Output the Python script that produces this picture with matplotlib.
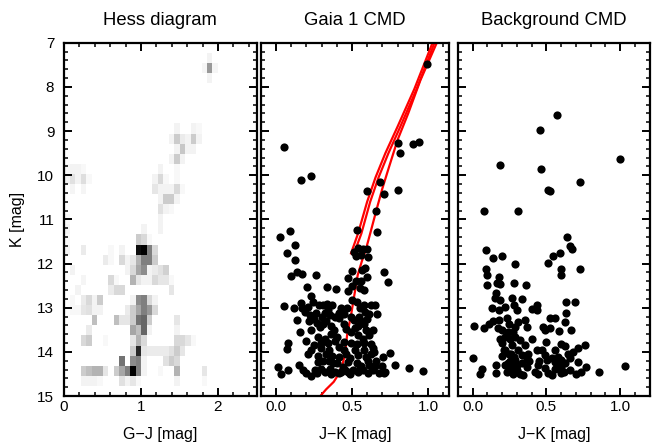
import numpy as np
import matplotlib
matplotlib.use("Agg")
import matplotlib.pyplot as plt
from matplotlib.ticker import MultipleLocator

plt.rcParams['font.family'] = ['Liberation Sans', 'DejaVu Sans']

# ---------------- Hess diagram (35 x 35 bins over G-J 0..2.5, K 7..15) ----------------
hess_nbins = 35
hess_gj_range = (0.0, 2.5)
hess_k_range = (7.0, 15.0)
# bin index along G-J, bin index along K (0 = K 7), relative density
hess_gj_bin = [26, 25, 26, 27, 26,
               20, 23, 24,
               19, 20, 21, 22, 23, 24,
               20, 21, 22, 23,
               19, 20, 21,
               0, 1, 2, 3, 17, 20,
               0, 1, 2, 3, 4, 16, 17, 18, 20,
               1, 3, 16, 17, 18, 19, 20, 21,
               17, 18, 19, 20,
               17, 18, 19,
               17, 0,
               0, 14, 17,
               13, 14, 15, 0,
               3, 8, 10, 13, 14, 15, 16, 0,
               7, 8, 10, 11, 12, 13, 14, 15, 16,
               1, 11, 12, 13, 14, 15, 16, 17, 18,
               3, 8, 9, 12, 13, 14, 15, 16, 17, 18, 19,
               2, 8, 9, 10, 19,
               1, 3, 4, 5, 6, 12, 13, 14, 15, 16,
               1, 2, 3, 4, 5, 6, 11, 12, 13, 14, 15, 16,
               5, 9, 10, 11, 12, 13, 14, 15, 20,
               4, 12, 13, 14, 15, 20,
               3, 4, 7, 12, 13, 14, 20, 21, 22, 23,
               12, 13, 14, 15, 16, 17, 18, 19, 20, 21,
               10, 12, 13, 14, 18, 19, 20,
               3, 4, 5, 6, 7, 9, 10, 11, 12, 13, 14, 17, 20, 25,
               3, 4, 5, 6, 10, 11, 12, 13, 20, 25]
hess_k_bin = [1, 2, 2, 2, 3,
              8, 8, 8,
              9, 9, 9, 9, 9, 9,
              10, 10, 10, 10,
              11, 11, 11,
              12, 12, 12, 12, 12, 12,
              13, 13, 13, 13, 13, 13, 13, 13, 13,
              14, 14, 14, 14, 14, 14, 14, 14,
              15, 15, 15, 15,
              16, 16, 16,
              17, 17,
              18, 18, 18,
              19, 19, 19, 19,
              20, 20, 20, 20, 20, 20, 20, 20,
              21, 21, 21, 21, 21, 21, 21, 21, 21,
              22, 22, 22, 22, 22, 22, 22, 22, 22,
              23, 23, 23, 23, 23, 23, 23, 23, 23, 23, 23,
              24, 24, 24, 24, 24,
              25, 25, 25, 25, 25, 25, 25, 25, 25, 25,
              26, 26, 26, 26, 26, 26, 26, 26, 26, 26, 26, 26,
              27, 27, 27, 27, 27, 27, 27, 27, 27,
              28, 28, 28, 28, 28, 28,
              29, 29, 29, 29, 29, 29, 29, 29, 29, 29,
              30, 30, 30, 30, 30, 30, 30, 30, 30, 30,
              31, 31, 31, 31, 31, 31, 31,
              32, 32, 32, 32, 32, 32, 32, 32, 32, 32, 32, 32, 32, 32,
              33, 33, 33, 33, 33, 33, 33, 33, 33, 33]
hess_density = [0.05, 0.04, 0.40, 0.04, 0.05,
                0.05, 0.05, 0.03,
                0.05, 0.20, 0.08, 0.05, 0.20, 0.05,
                0.05, 0.22, 0.05, 0.05,
                0.05, 0.20, 0.05,
                0.03, 0.05, 0.05, 0.03, 0.05, 0.03,
                0.05, 0.12, 0.05, 0.13, 0.03, 0.05, 0.15, 0.03, 0.03,
                0.04, 0.04, 0.10, 0.05, 0.05, 0.05, 0.15, 0.03,
                0.05, 0.20, 0.20, 0.05,
                0.12, 0.05, 0.03,
                0.05, 0.03,
                0.05, 0.05, 0.05,
                0.20, 0.15, 0.03, 0.03,
                0.08, 0.03, 0.05, 0.95, 1.00, 0.50, 0.15, 0.05,
                0.08, 0.03, 0.15, 0.05, 0.10, 0.30, 0.50, 0.50, 0.20,
                0.05, 0.05, 0.15, 0.35, 0.45, 0.05, 0.08, 0.12, 0.18,
                0.04, 0.15, 0.03, 0.30, 0.10, 0.05, 0.05, 0.15, 0.10, 0.10, 0.03,
                0.05, 0.08, 0.15, 0.15, 0.10,
                0.03, 0.08, 0.15, 0.05, 0.20, 0.05, 0.45, 0.50, 0.15, 0.05,
                0.03, 0.03, 0.10, 0.12, 0.05, 0.05, 0.08, 0.20, 0.35, 0.50, 0.40, 0.15,
                0.25, 0.25, 0.10, 0.10, 0.20, 0.55, 0.60, 0.20, 0.10,
                0.08, 0.35, 0.25, 0.60, 0.05, 0.05,
                0.15, 0.20, 0.03, 0.10, 0.30, 0.15, 0.15, 0.15, 0.10, 0.03,
                0.20, 0.85, 0.10, 0.08, 0.08, 0.08, 0.08, 0.12, 0.20, 0.10,
                0.55, 0.45, 0.50, 0.05, 0.12, 0.20, 0.15,
                0.20, 0.25, 0.30, 0.30, 0.10, 0.20, 0.35, 0.50, 1.00, 0.50, 0.05, 0.03, 0.30, 0.10,
                0.05, 0.05, 0.05, 0.03, 0.12, 0.05, 0.10, 0.03, 0.05, 0.03]

# ---------------- Gaia 1 CMD stars ----------------
gaia_jk = [0.993, 0.054, 0.806, 0.900, 0.939, 0.819, 0.163, 0.233, 0.686, 0.599, 0.804, 0.708, 0.660,
           0.534, 0.667, 0.093, 0.030, 0.126, 0.074, 0.126,
           0.516, 0.537, 0.570, 0.599, 0.527, 0.560, 0.608,
           0.100, 0.137, 0.170, 0.263, 0.710, 0.736,
           0.500, 0.565, 0.586, 0.473, 0.529, 0.560,
           0.207, 0.337, 0.392, 0.477, 0.229,
           0.054, 0.501, 0.532, 0.168, 0.211, 0.244, 0.283, 0.338, 0.582, 0.625, 0.651, 0.662,
           0.194, 0.222, 0.265, 0.320, 0.353, 0.390, 0.414, 0.418, 0.494, 0.516, 0.549, 0.586, 0.614, 0.141, 0.447,
           0.159, 0.233, 0.288, 0.360, 0.460, 0.494, 0.538, 0.614, 0.538, 0.582, 0.310, 0.380,
           0.082, 0.076, 0.200, 0.277, 0.298, 0.320, 0.342, 0.294, 0.403, 0.418, 0.450, 0.494, 0.534, 0.582,
           0.625, 0.636, 0.211, 0.752,
           0.462, 0.418, 0.538, 0.592, 0.625, 0.647, 0.701, 0.347, 0.310, 0.277, 0.375, 0.473, 0.560, 0.603,
           0.651, 0.695, 0.786, 0.876, 0.150,
           0.013, 0.035, 0.082, 0.179, 0.200, 0.229, 0.255, 0.298, 0.320, 0.353, 0.390, 0.418, 0.451, 0.473,
           0.505, 0.538, 0.603, 0.680, 0.708, 0.965,
           0.330, 0.360, 0.390, 0.350, 0.400, 0.530, 0.570, 0.590, 0.470, 0.550, 0.310, 0.440, 0.640, 0.280,
           0.520, 0.570,
           0.170, 0.250, 0.270, 0.220, 0.300, 0.340, 0.370, 0.430, 0.450, 0.520, 0.560, 0.600, 0.640, 0.250,
           0.230, 0.330, 0.370, 0.450, 0.490, 0.580, 0.610, 0.660, 0.430, 0.360, 0.270, 0.490, 0.550, 0.630,
           0.720, 0.500, 0.580, 0.600, 0.550, 0.120]
gaia_k = [7.49, 9.36, 9.26, 9.29, 9.24, 9.50, 10.11, 10.01, 10.16, 10.36, 10.33, 10.43, 10.80,
          11.23, 11.29, 11.26, 11.40, 11.58, 11.76, 11.93,
          11.73, 11.66, 11.68, 11.68, 11.83, 11.81, 11.86,
          12.28, 12.19, 12.24, 12.27, 12.20, 12.41,
          12.17, 12.15, 12.10, 12.32, 12.40, 12.40,
          12.54, 12.53, 12.57, 12.63, 12.73,
          12.96, 12.82, 12.87, 12.90, 12.98, 12.87, 12.93, 12.91, 12.93, 12.93, 12.93, 13.15,
          13.09, 13.17, 13.11, 13.13, 13.17, 13.21, 13.11, 13.23, 13.20, 13.28, 13.20, 13.09, 13.15, 13.27, 13.36,
          13.55, 13.51, 13.43, 13.41, 13.48, 13.55, 13.61, 13.61, 13.41, 13.36, 13.38, 13.50,
          13.81, 13.94, 13.76, 13.66, 13.79, 13.71, 13.81, 13.91, 13.66, 13.89, 13.78, 13.81, 13.83, 13.81,
          13.83, 13.92, 14.04, 14.02,
          14.04, 14.11, 14.08, 14.11, 14.04, 14.00, 14.11, 14.21, 14.21, 14.24, 14.26, 14.22, 14.31, 14.21,
          14.31, 14.32, 14.30, 14.36, 14.30,
          14.34, 14.50, 14.40, 14.41, 14.47, 14.55, 14.41, 14.38, 14.45, 14.38, 14.45, 14.49, 14.41, 14.45,
          14.41, 14.45, 14.47, 14.49, 14.49, 14.44,
          13.30, 13.60, 13.75, 13.95, 14.25, 14.25, 14.40, 13.50, 13.00, 13.00, 12.95, 14.35, 14.40, 14.10,
          13.95, 13.70,
          13.00, 13.25, 13.35, 13.30, 13.20, 13.05, 12.95, 13.00, 13.15, 13.45, 13.30, 13.25, 13.50, 13.85,
          13.95, 14.05, 14.10, 13.95, 14.15, 13.95, 14.30, 14.20, 14.45, 14.50, 14.47, 14.50, 14.35, 14.35,
          14.45, 12.50, 12.60, 12.30, 12.55, 13.00]

# ---------------- isochrone tracks (red) ----------------
iso_main_jk = [0.28, 0.33, 0.38, 0.41, 0.44, 0.455, 0.468, 0.494, 0.516, 0.538, 0.565, 0.59, 0.62,
               0.66, 0.70, 0.745, 0.80, 0.87, 0.95, 1.058]
iso_main_k = [15.05, 14.85, 14.68, 14.52, 14.25, 14.05, 13.62, 13.17, 12.71, 12.26, 11.95, 11.70, 11.32,
              10.80, 10.30, 9.80, 9.20, 8.60, 7.85, 7.00]
iso_b1_jk = [0.494, 0.540, 0.600, 0.655, 0.720, 0.800, 0.910, 1.030]
iso_b1_k = [11.77, 11.32, 10.60, 10.05, 9.50, 8.90, 8.05, 7.00]
iso_b2_jk = [0.518, 0.562, 0.620, 0.675, 0.740, 0.818, 0.925, 1.043]
iso_b2_k = [11.73, 11.32, 10.60, 10.05, 9.50, 8.90, 8.05, 7.00]

# ---------------- Background CMD stars ----------------
bg_jk = [0.573, 0.454, 0.182, 0.465, 1.000, 0.726, 0.512, 0.526, 0.079, 0.310, 0.642, 0.658, 0.674,
         0.092, 0.139, 0.200, 0.548, 0.593, 0.286, 0.510, 0.090, 0.097, 0.596, 0.602, 0.726, 0.178,
         0.099, 0.166, 0.182, 0.279, 0.360, 0.160, 0.153, 0.265, 0.333,
         0.182, 0.434, 0.636, 0.692,
         0.130, 0.175, 0.220, 0.277, 0.299, 0.400, 0.434,
         0.523, 0.557, 0.636, 0.625,
         0.007, 0.075, 0.113, 0.175, 0.231, 0.243, 0.288, 0.355, 0.366, 0.310,
         0.479, 0.490, 0.523, 0.584, 0.665,
         0.186, 0.220, 0.254, 0.288, 0.322, 0.400, 0.198, 0.265, 0.355,
         0.500, 0.598, 0.625, 0.714, 0.764,
         0.434,
         0.220, 0.243, 0.277, 0.310, 0.333, 0.366, 0.377,
         0.490, 0.501, 0.535, 0.557, 0.580, 0.602, 0.647, 0.658, 0.625,
         0.000, 0.063, 0.052, 0.160, 0.160,
         0.220, 0.243, 0.265, 0.299, 0.333, 0.366, 0.344,
         0.445, 0.490, 0.512, 0.535, 0.557, 0.580, 0.602, 0.658, 0.714, 0.732, 0.770, 0.860, 1.034,
         0.240, 0.270, 0.200, 0.250, 0.290, 0.200, 0.230, 0.270, 0.300, 0.450, 0.420, 0.470, 0.560,
         0.600, 0.680, 0.700,
         0.140, 0.170, 0.210, 0.260, 0.280, 0.320, 0.380, 0.240, 0.440, 0.620]
bg_k = [8.64, 8.98, 9.76, 9.86, 9.64, 10.16, 10.34, 10.35, 10.80, 10.80, 11.39, 11.60, 11.67,
        11.70, 11.87, 11.82, 11.82, 11.77, 12.00, 11.98, 12.13, 12.26, 12.13, 12.26, 12.13, 12.30,
        12.49, 12.45, 12.47, 12.44, 12.49, 12.66, 12.79, 12.79, 12.80,
        12.83, 12.93, 12.88, 12.87,
        13.00, 13.05, 12.98, 12.94, 13.05, 13.02, 13.05,
        13.24, 13.23, 13.13, 13.32,
        13.41, 13.47, 13.38, 13.28, 13.23, 13.38, 13.43, 13.28, 13.43, 13.32,
        13.43, 13.51, 13.47, 13.53, 13.51,
        13.70, 13.66, 13.70, 13.66, 13.74, 13.70, 13.81, 13.85, 13.85,
        13.77, 13.83, 13.86, 13.91, 13.85,
        13.96,
        13.96, 14.04, 14.11, 13.96, 14.07, 14.15, 14.04,
        14.07, 14.19, 14.15, 14.22, 14.11, 14.19, 14.04, 14.15, 14.26,
        14.15, 14.39, 14.51, 14.29, 14.47,
        14.30, 14.34, 14.38, 14.30, 14.26, 14.34, 14.53,
        14.30, 14.36, 14.49, 14.53, 14.38, 14.30, 14.47, 14.41, 14.22, 14.45, 14.34, 14.45, 14.32,
        13.55, 13.55, 13.50, 14.20, 14.18, 14.10, 14.45, 14.50, 14.42, 14.20, 14.45, 13.95, 13.95,
        14.35, 14.00, 14.50,
        13.30, 13.45, 13.95, 14.05, 14.35, 14.50, 14.20, 14.25, 14.50, 14.45]

# ---------------- figure ----------------
W, H = 654, 444
fig = plt.figure(figsize=(W / 100, H / 100), dpi=100)
bottom = 1 - 396 / H
height = (396 - 42.7) / H
ax1 = fig.add_axes([64 / W, bottom, 192.5 / W, height])
ax2 = fig.add_axes([260.7 / W, bottom, 188.6 / W, height])
ax3 = fig.add_axes([458 / W, bottom, 191.5 / W, height])

# Hess diagram
gj_edges = np.linspace(hess_gj_range[0], hess_gj_range[1], hess_nbins + 1)
k_edges = np.linspace(hess_k_range[0], hess_k_range[1], hess_nbins + 1)
gj_centers = 0.5 * (gj_edges[:-1] + gj_edges[1:])
k_centers = 0.5 * (k_edges[:-1] + k_edges[1:])
Hh, _, _ = np.histogram2d(gj_centers[hess_gj_bin], k_centers[hess_k_bin],
                          bins=[gj_edges, k_edges], weights=hess_density)
ax1.pcolormesh(gj_edges, k_edges, Hh.T, cmap='gray_r', vmin=0, vmax=1,
               shading='flat', rasterized=True)
ax1.set_xlim(0, 2.5)
ax1.set_ylim(15, 7)

ax2.plot(iso_main_jk, iso_main_k, color='#ff0000', lw=1.6, zorder=2)
ax2.plot(iso_b1_jk, iso_b1_k, color='#ff0000', lw=1.6, zorder=2)
ax2.plot(iso_b2_jk, iso_b2_k, color='#ff0000', lw=1.6, zorder=2)
ax2.plot(gaia_jk, gaia_k, 'o', color='black', ms=5.9, mec='black', mew=0, zorder=3)
ax2.set_xlim(-0.1, 1.14)
ax2.set_ylim(15, 7)

ax3.plot(bg_jk, bg_k, 'o', color='black', ms=5.9, mec='black', mew=0, zorder=3)
ax3.set_xlim(-0.1, 1.2)
ax3.set_ylim(15, 7)

for ax in (ax1, ax2, ax3):
    for s in ax.spines.values():
        s.set_linewidth(1.6)
    ax.yaxis.set_major_locator(MultipleLocator(1))
    ax.yaxis.set_minor_locator(MultipleLocator(0.2))
    ax.tick_params(which='both', direction='in', top=True, right=True, labelsize=11)
    ax.tick_params(which='major', length=6, width=1.4)
    ax.tick_params(which='minor', length=3.2, width=1.1)
    ax.tick_params(axis='x', which='major', pad=3)
    ax.tick_params(axis='y', which='major', pad=7)

ax1.xaxis.set_major_locator(MultipleLocator(1))
ax1.xaxis.set_minor_locator(MultipleLocator(0.2))
for ax in (ax2, ax3):
    ax.xaxis.set_major_locator(MultipleLocator(0.5))
    ax.xaxis.set_minor_locator(MultipleLocator(0.1))
    ax.xaxis.set_major_formatter(plt.FormatStrFormatter('%.1f'))
    ax.tick_params(axis='y', labelleft=False)

ax1.set_xlabel('G\u2212J [mag]', fontsize=11.5, labelpad=9)
ax2.set_xlabel('J\u2212K [mag]', fontsize=11.5, labelpad=9)
ax3.set_xlabel('J\u2212K [mag]', fontsize=11.5, labelpad=9)
ax1.set_ylabel('K [mag]', fontsize=11.5, labelpad=9)

ax1.set_title('Hess diagram', fontsize=13.3, pad=13)
ax2.set_title('Gaia 1 CMD', fontsize=13.3, pad=13)
ax3.set_title('Background CMD', fontsize=13.3, pad=13)

fig.savefig('out.png', dpi=100)
